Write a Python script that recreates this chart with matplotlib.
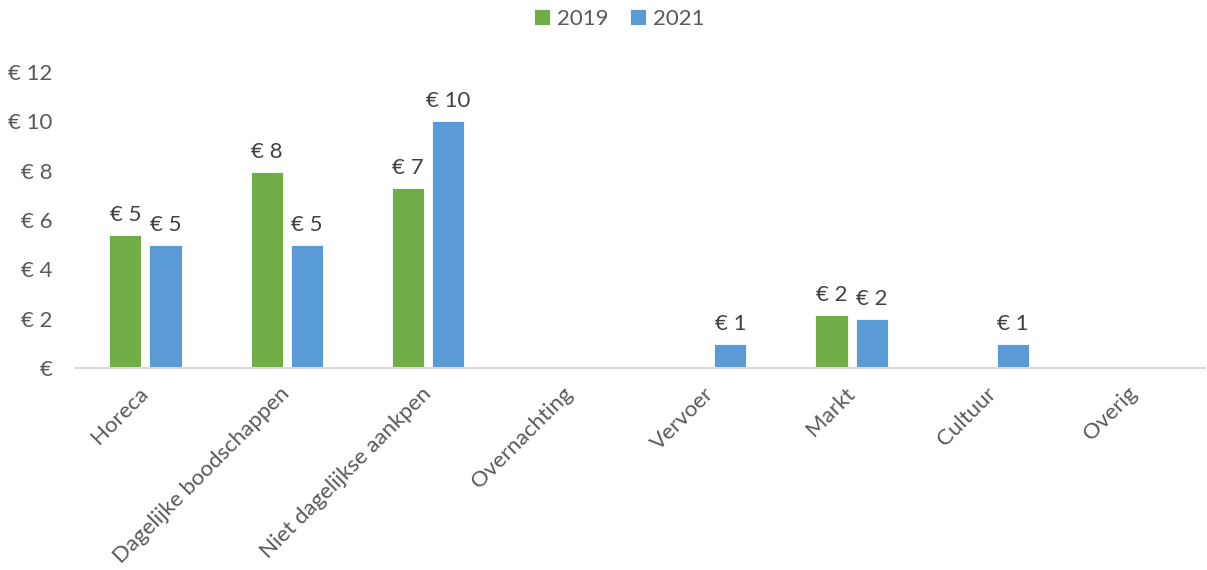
import numpy as np
import matplotlib
matplotlib.use("Agg")
import matplotlib.pyplot as plt

categories = ["Horeca", "Dagelijke boodschappen", "Niet dagelijkse aankpen",
              "Overnachting", "Vervoer", "Markt", "Cultuur", "Overig"]
values_2019 = [5.4, 7.95, 7.3, np.nan, np.nan, 2.15, np.nan, np.nan]
values_2021 = [5.0, 5.0, 10.0, np.nan, 1.0, 2.0, 1.0, np.nan]
y_ticks = [0, 2, 4, 6, 8, 10, 12]

plt.rcParams['font.family'] = ['Lato', 'DejaVu Sans']
grey = "#595959"

fig = plt.figure(figsize=(12.07, 5.70), dpi=100)
ax = fig.add_axes([0.062, 0.354, 0.936, 0.52])

x = np.arange(len(categories))
w = 0.227
off = (w + 0.057) / 2
b1 = ax.bar(x - off, values_2019, w, color="#70AD47", label="2019",
            edgecolor="white", linewidth=0.6)
b2 = ax.bar(x + off, values_2021, w, color="#5B9BD5", label="2021",
            edgecolor="white", linewidth=0.6)

for bars, vals in ((b1, values_2019), (b2, values_2021)):
    for rect, v in zip(bars, vals):
        if np.isnan(v):
            continue
        ax.annotate("€ %d" % round(v), (rect.get_x() + rect.get_width() / 2, v),
                    xytext=(0, 7), textcoords="offset points",
                    ha="center", va="bottom", fontsize=16, color="#404040")

ax.set_xlim(-0.5, len(categories) - 0.5)
ax.set_ylim(0, 12)
ax.set_yticks(y_ticks)
ax.set_yticklabels(["€" if t == 0 else "€ %d" % t for t in y_ticks])
ax.set_xticks(x)
ax.set_xticklabels(categories, rotation=45, ha="right", va="center",
                   rotation_mode="anchor")
ax.tick_params(axis="both", length=0, labelsize=16, labelcolor=grey)
ax.tick_params(axis="y", pad=16)
ax.tick_params(axis="x", pad=16)
for s in ("top", "right", "left"):
    ax.spines[s].set_visible(False)
ax.spines["bottom"].set_color("#D9D9D9")
ax.spines["bottom"].set_linewidth(1.5)

leg = fig.legend(handles=[b1, b2], loc="upper center", bbox_to_anchor=(0.513, 1.02),
                 ncol=2, frameon=False, fontsize=16, handlelength=0.7,
                 handleheight=0.7, columnspacing=1.0, handletextpad=0.3)
for t in leg.get_texts():
    t.set_color(grey)

fig.savefig("out.png", dpi=100)
